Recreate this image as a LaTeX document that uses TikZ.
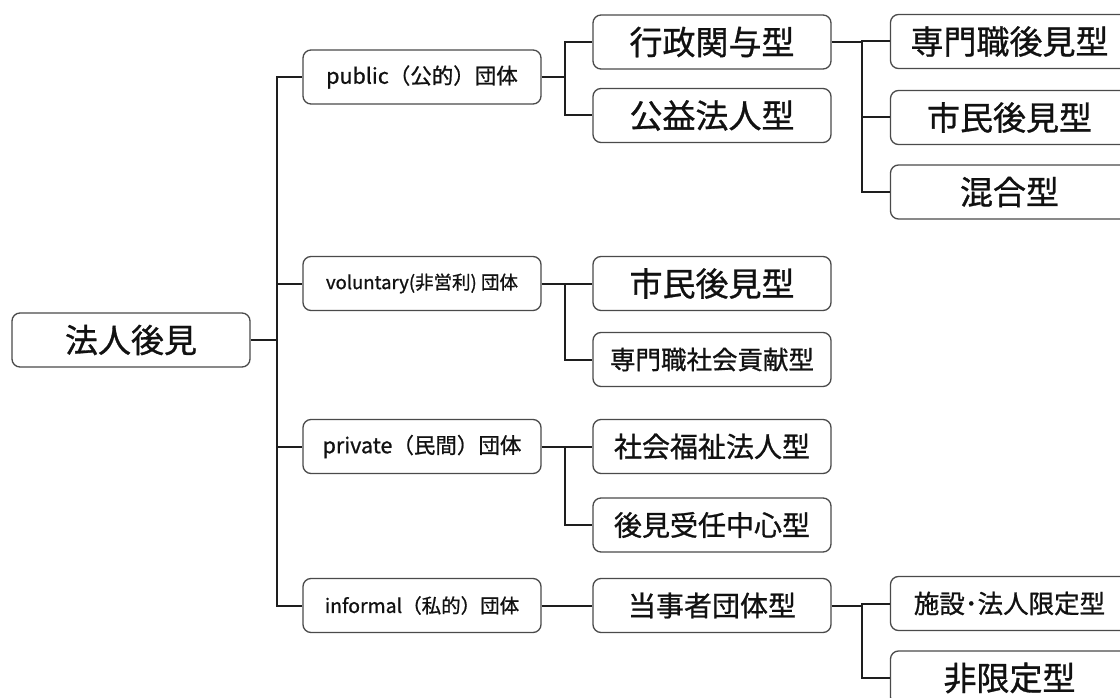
\documentclass[tikz,border=0pt]{standalone}
\usepackage{fontspec}
\setmainfont{Noto Sans CJK JP}[FakeBold=0.9]
\definecolor{linec}{HTML}{1E1E1E}
\definecolor{boxc}{HTML}{4A4A4A}
\definecolor{txtc}{HTML}{111111}
\tikzset{
  box/.style={draw=boxc, line width=1.3pt, rounded corners=8pt, minimum width=238pt,
    minimum height=54pt, inner sep=0pt, fill=white, text=txtc},
  conn/.style={draw=linec, line width=2pt},
  fbig/.style={font=\fontsize{33}{33}\selectfont},
  fmid/.style={font=\fontsize{28}{28}\selectfont},
  fsml/.style={font=\fontsize{25.5}{25.5}\selectfont},
  flab/.style={font=\fontsize{21.5}{21.5}\selectfont},
  finf/.style={font=\fontsize{19.5}{19.5}\selectfont},
  fvol/.style={font=\fontsize{18.5}{18.5}\selectfont},
}
\begin{document}
\begin{tikzpicture}[x=1pt,y=-1pt]
\useasboundingbox (0,0) rectangle (1120,698);
\clip (0,0) rectangle (1120,698);
\fill[white] (0,0) rectangle (1120,698);
% junction x positions
\coordinate (j1) at (277,0);
\coordinate (j2) at (565,0);
\coordinate (j3) at (862,0);
% root
\node[box,fbig] (root) at (131,340) {法人後見};
% level 1
\node[box,flab] (pub) at (422,77) {public（公的）団体};
\node[box,fvol] (vol) at (422,283.5) {voluntary(非営利) 団体};
\node[box,flab] (pri) at (422,446.5) {private（民間）団体};
\node[box,finf] (inf) at (422,605.5) {informal（私的）団体};
% level 2
\node[box,fbig] (gyo) at (712,42) {行政関与型};
\node[box,fbig] (kou) at (712,115.5) {公益法人型};
\node[box,fbig] (simb) at (712,283.5) {市民後見型};
\node[box,fsml] (senb) at (712,359.5) {専門職社会貢献型};
\node[box,fmid] (sha) at (712,446.5) {社会福祉法人型};
\node[box,fmid] (kok) at (712,525) {後見受任中心型};
\node[box,fmid] (toj) at (712,605.5) {当事者団体型};
% level 3
\node[box,fbig] (senc) at (1009.5,41.5) {専門職後見型};
\node[box,fbig] (simc) at (1009.5,117.5) {市民後見型};
\node[box,fbig] (kon) at (1009.5,192) {混合型};
\node[box,fsml] (shi) at (1009.5,603.5) {施設･法人限定型};
\node[box,fbig] (hig) at (1009.5,678) {非限定型};
% connectors: root
\draw[conn] (root.east) -- (root.east -| j1);
\draw[conn] (root.east -| j1) |- (pub.west);
\draw[conn] (root.east -| j1) |- (vol.west);
\draw[conn] (root.east -| j1) |- (pri.west);
\draw[conn] (root.east -| j1) |- (inf.west);
% public
\draw[conn] (pub.east) -- (pub.east -| j2);
\draw[conn] (pub.east -| j2) |- (gyo.west);
\draw[conn] (pub.east -| j2) |- (kou.west);
% voluntary
\draw[conn] (vol.east) -- (vol.east -| j2);
\draw[conn] (vol.east -| j2) |- (simb.west);
\draw[conn] (vol.east -| j2) |- (senb.west);
% private
\draw[conn] (pri.east) -- (pri.east -| j2);
\draw[conn] (pri.east -| j2) |- (sha.west);
\draw[conn] (pri.east -| j2) |- (kok.west);
% informal
\draw[conn] (inf.east) -- (toj.west);
% gyosei
\draw[conn] (gyo.east) -- (gyo.east -| j3);
\draw[conn] (gyo.east -| j3) |- (senc.west);
\draw[conn] (gyo.east -| j3) |- (simc.west);
\draw[conn] (gyo.east -| j3) |- (kon.west);
% tojisha
\draw[conn] (toj.east) -- (toj.east -| j3);
\draw[conn] (toj.east -| j3) |- (shi.west);
\draw[conn] (toj.east -| j3) |- (hig.west);
\end{tikzpicture}
\end{document}
